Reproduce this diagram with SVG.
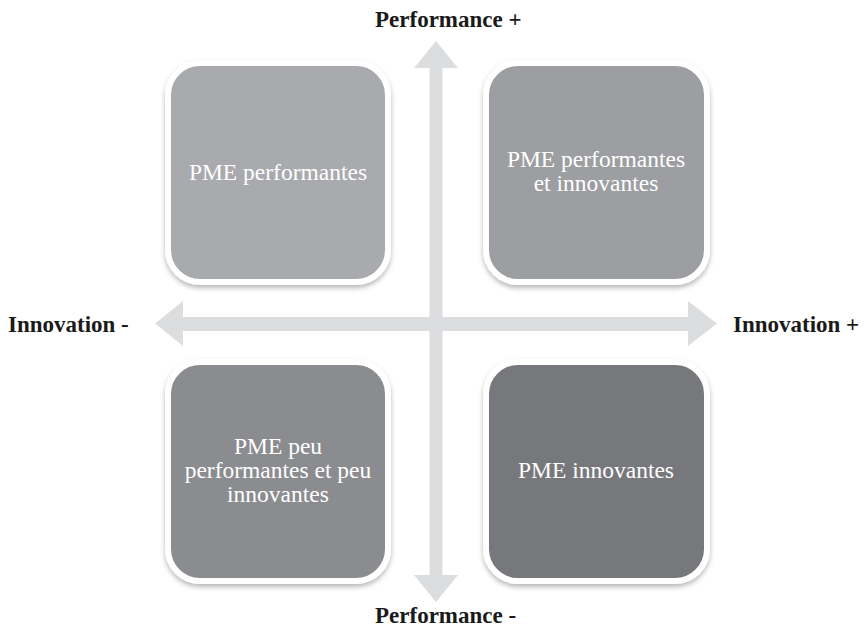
<svg xmlns="http://www.w3.org/2000/svg" width="866" height="629" viewBox="0 0 866 629">
  <defs>
    <filter id="shadow" x="-10%" y="-10%" width="120%" height="125%">
      <feDropShadow dx="0" dy="3" stdDeviation="2.5" flood-color="#000" flood-opacity="0.28"/>
    </filter>
    <style>
      .box { stroke: #ffffff; stroke-width: 6; filter: url(#shadow); }
      .lbl { font-family: "Liberation Serif", "Times New Roman", serif; font-size: 23.5px; fill: #ffffff; text-anchor: middle; }
      .axis { font-family: "Liberation Serif", "Times New Roman", serif; font-size: 23px; font-weight: bold; fill: #1a1a1a; }
      .arrow { fill: #dcdddf; }
    </style>
  </defs>
  <rect width="866" height="629" fill="#ffffff"/>

  <!-- axes -->
  <g id="connectors">
    <polygon class="arrow" points="436,41 458,68 442.5,68 442.5,575 458,575 436,602 414,575 429.5,575 429.5,68 414,68"/>
    <polygon class="arrow" points="155,323.5 183,301 183,317 688,317 688,301 717,323.5 688,346 688,331 183,331 183,346"/>
  </g>

  <!-- quadrants -->
  <g id="node-performantes">
    <rect class="box" x="168" y="63" width="220" height="219" rx="32" fill="#a9aaad"/>
    <text class="lbl" x="278" y="180">PME performantes</text>
  </g>
  <g id="node-performantes-innovantes">
    <rect class="box" x="486" y="63" width="221" height="219" rx="32" fill="#9d9ea1"/>
    <text class="lbl" x="596" y="167">PME performantes</text>
    <text class="lbl" x="596" y="191">et innovantes</text>
  </g>
  <g id="node-peu">
    <rect class="box" x="168" y="362" width="220" height="219" rx="32" fill="#8b8c8f"/>
    <text class="lbl" x="278" y="454">PME peu</text>
    <text class="lbl" x="278" y="478">performantes et peu</text>
    <text class="lbl" x="278" y="502">innovantes</text>
  </g>
  <g id="node-innovantes">
    <rect class="box" x="486" y="362" width="221" height="219" rx="32" fill="#77787b"/>
    <text class="lbl" x="596" y="478">PME innovantes</text>
  </g>

  <!-- axis labels -->
  <g id="axis-labels">
    <text class="axis" x="375" y="27">Performance +</text>
    <text class="axis" x="375" y="623">Performance -</text>
    <text class="axis" x="8" y="332">Innovation -</text>
    <text class="axis" x="733" y="332">Innovation +</text>
  </g>
</svg>
